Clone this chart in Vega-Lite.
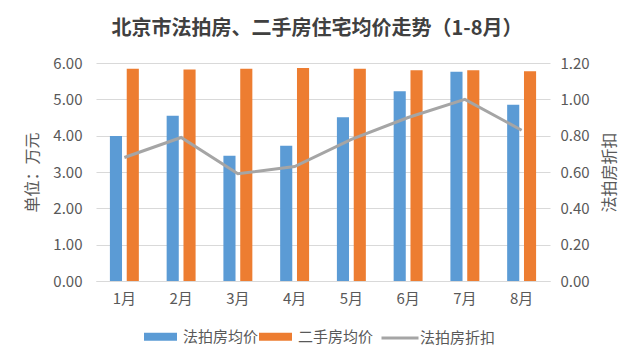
{
  "$schema": "https://vega.github.io/schema/vega-lite/v6.json",
  "autosize": {"type": "none"},
  "width": 454,
  "height": 218,
  "padding": {"left": 96, "top": 63, "right": 90, "bottom": 82},
  "background": "white",
  "config": {
    "font": "Noto Sans CJK SC",
    "view": {"stroke": null}
  },
  "title": {
    "text": "北京市法拍房、二手房住宅均价走势（1-8月）",
    "fontSize": 20,
    "fontWeight": "bold",
    "color": "#404040",
    "anchor": "middle",
    "dx": -6,
    "offset": 17
  },
  "data": {
    "values": [
      {"month": "1月", "法拍房均价": 3.99, "二手房均价": 5.84, "法拍房折扣": 0.68},
      {"month": "2月", "法拍房均价": 4.55, "二手房均价": 5.82, "法拍房折扣": 0.79},
      {"month": "3月", "法拍房均价": 3.45, "二手房均价": 5.84, "法拍房折扣": 0.59},
      {"month": "4月", "法拍房均价": 3.72, "二手房均价": 5.86, "法拍房折扣": 0.63},
      {"month": "5月", "法拍房均价": 4.51, "二手房均价": 5.84, "法拍房折扣": 0.78},
      {"month": "6月", "法拍房均价": 5.22, "二手房均价": 5.80, "法拍房折扣": 0.90},
      {"month": "7月", "法拍房均价": 5.76, "二手房均价": 5.80, "法拍房折扣": 1.00},
      {"month": "8月", "法拍房均价": 4.85, "二手房均价": 5.77, "法拍房折扣": 0.83}
    ]
  },
  "layer": [
    {
      "transform": [{"fold": ["法拍房均价", "二手房均价"], "as": ["series", "value"]}],
      "mark": {"type": "bar"},
      "encoding": {
        "x": {
          "field": "month", "type": "nominal", "sort": null,
          "scale": {"paddingInner": 0.49, "paddingOuter": 0.245},
          "axis": {"title": null, "labelAngle": 0, "labelFontSize": 15, "labelColor": "#595959", "labelPadding": 10, "ticks": false, "domainColor": "#D9D9D9", "domainWidth": 1}
        },
        "xOffset": {"field": "series", "type": "nominal", "scale": {"domain": ["法拍房均价", "二手房均价"], "paddingInner": 0.28}},
        "y": {
          "field": "value", "type": "quantitative",
          "scale": {"domain": [0, 6], "nice": false},
          "axis": {"title": "单位：万元", "format": ".2f", "values": [0, 1, 2, 3, 4, 5, 6], "labelOverlap": false, "labelFontSize": 15, "labelColor": "#595959", "labelPadding": 14, "ticks": false, "domain": false, "gridColor": "#D9D9D9", "titleFontSize": 16, "titleFontWeight": "normal", "titleColor": "#595959", "titleX": -56, "titleBaseline": "bottom"}
        },
        "color": {
          "field": "series", "type": "nominal",
          "scale": {"domain": ["法拍房均价", "二手房均价"], "range": ["#5B9BD5", "#ED7D31"]},
          "legend": {"title": null, "orient": "none", "legendX": 48, "legendY": 257, "direction": "horizontal", "labelFontSize": 15, "labelColor": "#595959", "symbolType": "M-1,-0.24H1V0.24H-1Z", "symbolSize": 1089, "symbolStrokeWidth": 0, "labelOffset": 6, "columnPadding": -14, "padding": 0}
        }
      }
    },
    {
      "mark": {"type": "line", "strokeWidth": 3},
      "encoding": {
        "x": {"field": "month", "type": "nominal", "sort": null},
        "y": {
          "field": "法拍房折扣", "type": "quantitative",
          "scale": {"domain": [0, 1.2], "nice": false},
          "axis": {"orient": "right", "title": "法拍房折扣", "format": ".2f", "values": [0, 0.2, 0.4, 0.6, 0.8, 1.0, 1.2], "labelOverlap": false, "grid": false, "labelFontSize": 15, "labelColor": "#595959", "labelPadding": 10, "ticks": false, "domain": false, "titleFontSize": 16, "titleFontWeight": "normal", "titleColor": "#595959", "titlePadding": 28, "titleAngle": 270}
        },
        "stroke": {
          "datum": "法拍房折扣",
          "scale": {"domain": ["法拍房折扣"], "range": ["#A5A5A5"]},
          "legend": {"title": null, "orient": "none", "legendX": 284, "legendY": 255, "labelFontSize": 15, "labelColor": "#595959", "symbolType": "stroke", "symbolSize": 1369, "symbolStrokeWidth": 3, "labelOffset": 0, "padding": 0}
        }
      }
    }
  ],
  "resolve": {"scale": {"y": "independent"}}
}
